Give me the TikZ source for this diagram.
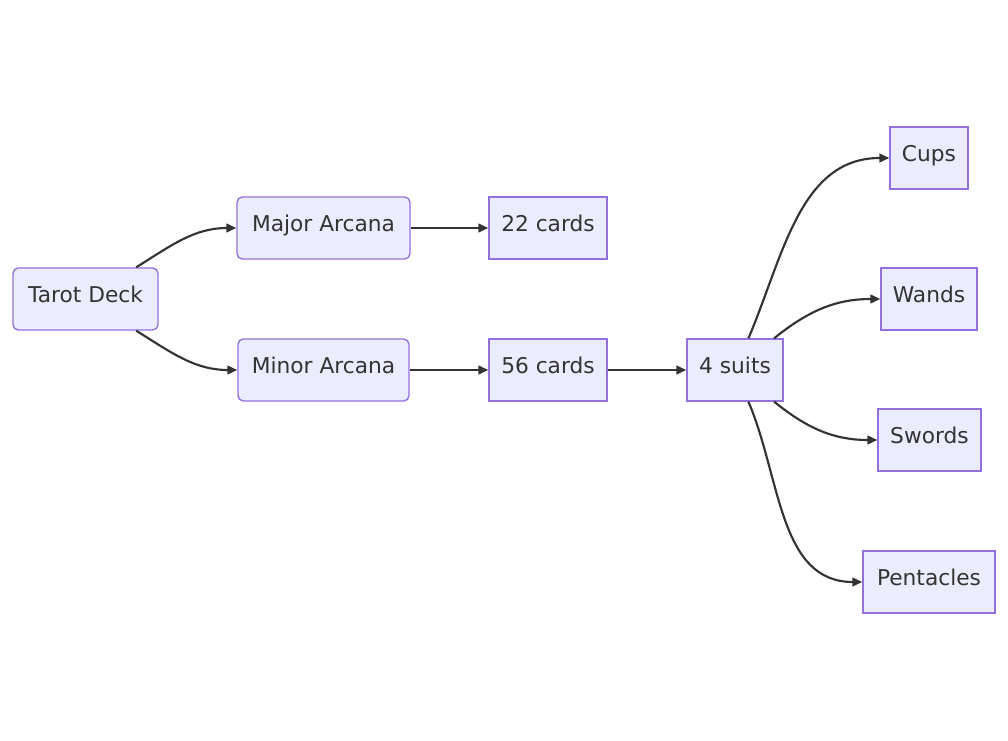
\documentclass[tikz,border=0pt]{standalone}
\usepackage{fontspec}
\setmainfont{DejaVu Sans}
\usetikzlibrary{arrows.meta}
\definecolor{boxfill}{HTML}{ECECFF}
\definecolor{boxline}{HTML}{9370DB}
\definecolor{wire}{HTML}{333333}
\tikzset{cardbox/.style={draw=boxline,fill=boxfill,line width=1pt,minimum height=46.5pt,inner sep=1.5pt,text height=.75em,text depth=.25em,text=wire,font=\fontsize{16.3}{19}\selectfont},roundbox/.style={cardbox,rounded corners=4pt},link/.style={draw=wire,line width=1.6pt,-{Triangle[length=7.5pt,width=6.5pt]}}}

\begin{document}
\begin{tikzpicture}[x=.75pt,y=.75pt]
\useasboundingbox (0,0) rectangle (1008,740);
\node[roundbox,minimum width=108.75pt] (deck) at (85.5,441) {Tarot Deck};
\node[roundbox,minimum width=129.75pt] (major) at (323.5,512) {Major Arcana};
\node[roundbox,minimum width=128.25pt] (minor) at (323.5,370) {Minor Arcana};
\node[cardbox,minimum width=88.5pt] (c22) at (548,512) {22 cards};
\node[cardbox,minimum width=88.5pt] (c56) at (548,370) {56 cards};
\node[cardbox,minimum width=72pt] (suits) at (735,370) {4 suits};
\node[cardbox,minimum width=58.5pt] (cups) at (929,582) {Cups};
\node[cardbox,minimum width=72pt] (wands) at (929,441) {Wands};
\node[cardbox,minimum width=77.25pt] (swords) at (929.5,300) {Swords};
\node[cardbox,minimum width=99pt] (pentacles) at (929,158) {Pentacles};
\foreach \u/\v in {major/c22,minor/c56,c56/suits}{\draw[link] (\u)--(\v);}
\foreach \u/\a/\v in {deck/32/major,deck/-32/minor,suits/67/cups,suits/39/wands,suits/-39/swords,suits/-67/pentacles}{\draw[link] (\u.\a) to[out=\a,in=180] (\v.west);}
\end{tikzpicture}
\end{document}
